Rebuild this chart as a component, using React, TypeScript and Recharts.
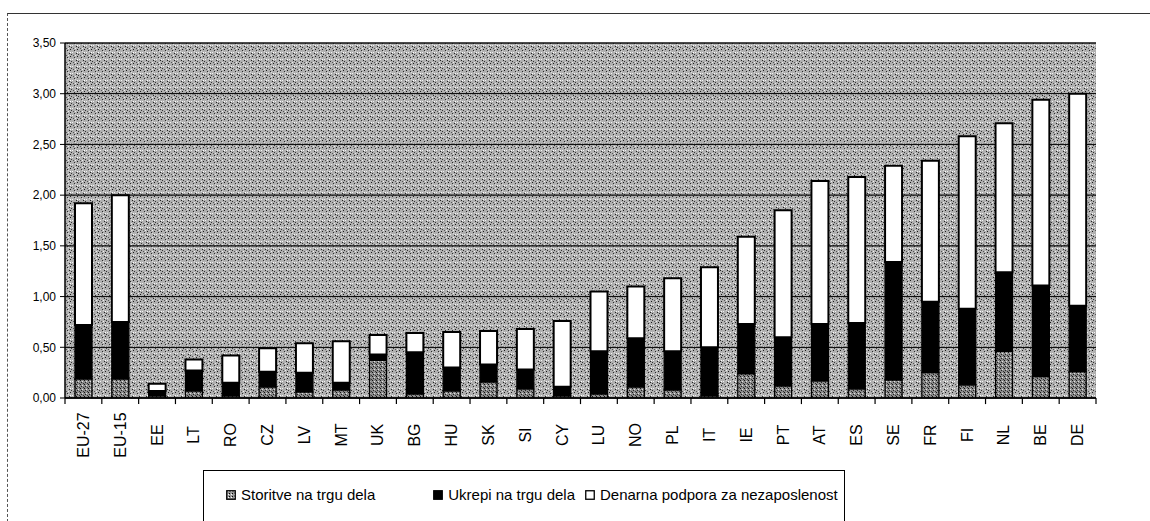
import React from "react";
import { BarChart, Bar, XAxis, YAxis, CartesianGrid, Legend, ReferenceLine } from "recharts";

const categories = ["EU-27","EU-15","EE","LT","RO","CZ","LV","MT","UK","BG","HU","SK","SI","CY","LU","NO","PL","IT","IE","PT","AT","ES","SE","FR","FI","NL","BE","DE"];
const storitve = [0.19,0.19,0.02,0.07,0.02,0.11,0.06,0.08,0.37,0.04,0.07,0.16,0.09,0.02,0.04,0.11,0.08,0.02,0.24,0.12,0.17,0.09,0.18,0.25,0.13,0.46,0.21,0.26];
const ukrepi = [0.53,0.56,0.05,0.20,0.13,0.15,0.19,0.07,0.06,0.41,0.23,0.17,0.19,0.09,0.42,0.48,0.38,0.48,0.49,0.48,0.56,0.65,1.16,0.70,0.75,0.78,0.90,0.65];
const denarna = [1.20,1.25,0.07,0.11,0.27,0.23,0.29,0.41,0.19,0.19,0.35,0.33,0.40,0.65,0.59,0.51,0.72,0.79,0.86,1.25,1.41,1.44,0.95,1.39,1.70,1.47,1.83,2.09];
const yTicks = [0, 0.5, 1, 1.5, 2, 2.5, 3, 3.5];
const seriesNames = ["Storitve na trgu dela", "Ukrepi na trgu dela", "Denarna podpora za nezaposlenost"];

const data = categories.map((c, i) => ({ cat: c, s: storitve[i], u: ukrepi[i], d: denarna[i] }));
const TICK_DEPTH = -0.06;

const FONT = "Arial, 'Liberation Sans', sans-serif";

const renderXTick = (props: any) => {
  const { x, y, payload, index } = props;
  const ty = y + 37;
  return (
    <text
      key={`xt-${index}`}
      x={x}
      y={ty}
      transform={`rotate(-90 ${x} ${ty})`}
      textAnchor="middle"
      dominantBaseline="central"
      fontSize={16}
      fontFamily={FONT}
      fill="#000"
    >
      {payload.value}
    </text>
  );
};

const LegendIcon = ({ kind }: { kind: number }) => (
  <svg width={10} height={10} style={{ marginRight: 5, flex: "none" }}>
    <defs>
      <pattern id="legPat" width="3" height="3" patternUnits="userSpaceOnUse">
        <rect width="3" height="3" fill="#9a9a9a" />
        <rect x="0" y="0" width="1" height="1" fill="#000" />
        <rect x="2" y="1" width="1" height="1" fill="#fff" />
      </pattern>
    </defs>
    <rect
      x={0.75}
      y={0.75}
      width={8.5}
      height={8.5}
      fill={kind === 0 ? "url(#legPat)" : kind === 1 ? "#000" : "#fff"}
      stroke="#000"
      strokeWidth={1.3}
    />
  </svg>
);

const renderLegend = () => (
  <div
    style={{
      width: 642,
      height: 60,
      border: "1px solid #000",
      borderBottom: "none",
      background: "#fff",
      boxSizing: "border-box",
      display: "flex",
      alignItems: "flex-start",
      paddingTop: 15,
      fontFamily: FONT,
      fontSize: 15,
      color: "#000",
    }}
  >
    {seriesNames.map((n, i) => (
      <div
        key={n}
        style={{
          display: "flex",
          alignItems: "center",
          marginLeft: i === 0 ? 22 : i === 1 ? 58 : 10,
          whiteSpace: "nowrap",
        }}
      >
        <LegendIcon kind={i} />
        <span>{n}</span>
      </div>
    ))}
  </div>
);

export default function App() {
  return (
    <div style={{ position: "absolute", left: 0, top: 0, width: 1150, height: 521, background: "#fff", overflow: "hidden" }}>
      <div
        style={{
          position: "absolute",
          left: 7,
          top: 13,
          width: 1143,
          height: 508,
          borderTop: "1px solid #333",
          borderLeft: "1px dashed #555",
        }}
      />
      <BarChart
        width={1150}
        height={521}
        data={data}
        margin={{ top: 43, right: 54, bottom: 0, left: 8 }}
        barSize={17}
        style={{ position: "absolute", left: 0, top: 0, overflow: "visible" }}
      >
        <defs>
          <pattern id="bgPat" width="7" height="7" patternUnits="userSpaceOnUse">
            <rect width="7" height="7" fill="#b0b0b0" />
            <rect x="0" y="0" width="1" height="1" fill="#1a1a1a" />
            <rect x="4" y="1" width="1" height="1" fill="#2a2a2a" />
            <rect x="2" y="3" width="1" height="1" fill="#f2f2f2" />
            <rect x="6" y="4" width="1" height="1" fill="#222" />
            <rect x="1" y="5" width="1" height="1" fill="#333" />
            <rect x="5" y="6" width="1" height="1" fill="#eee" />
            <rect x="3" y="6" width="1" height="1" fill="#555" />
            <rect x="5" y="2" width="1" height="1" fill="#ddd" />
            <rect x="0" y="3" width="1" height="1" fill="#fff" />
          </pattern>
          <pattern id="darkPat" width="4" height="4" patternUnits="userSpaceOnUse">
            <rect width="4" height="4" fill="#8c8c8c" />
            <rect x="0" y="0" width="1" height="1" fill="#111" />
            <rect x="2" y="1" width="1" height="1" fill="#e0e0e0" />
            <rect x="1" y="2" width="1" height="1" fill="#222" />
            <rect x="3" y="3" width="1" height="1" fill="#333" />
          </pattern>
        </defs>
        <CartesianGrid
          vertical={false}
          horizontal={true}
          stroke="#111"
          strokeWidth={1.3}
          fill="url(#bgPat)"
          fillOpacity={1}
        />
        <XAxis
          dataKey="cat"
          interval={0}
          height={123}
          tickLine={false}
          tickSize={0}
          tickMargin={0}
          axisLine={{ stroke: "#000", strokeWidth: 1.5 }}
          tick={renderXTick}
        />
        <YAxis
          width={57}
          domain={[0, 3.5]}
          ticks={yTicks}
          interval={0}
          allowDataOverflow
          tickFormatter={(v: number) => v.toFixed(2).replace(".", ",")}
          tickSize={5}
          tickMargin={4}
          tickLine={{ stroke: "#000" }}
          axisLine={{ stroke: "#000", strokeWidth: 1.5 }}
          tick={{ fontSize: 12, fontFamily: FONT, fill: "#000" }}
        />
        <YAxis
          yAxisId="r"
          orientation="right"
          width={0}
          domain={[0, 3.5]}
          tick={false}
          tickLine={false}
          axisLine={{ stroke: "#000", strokeWidth: 1.5 }}
        />
        <Legend
          layout="horizontal"
          verticalAlign="middle"
          align="center"
          content={renderLegend}
          wrapperStyle={{ position: "absolute", left: 203, top: 470, width: 642, height: 60 }}
        />
        <Bar dataKey="s" name={seriesNames[0]} stackId="a" fill="url(#darkPat)" stroke="#000" strokeWidth={1.3} isAnimationActive={false} />
        <Bar dataKey="u" name={seriesNames[1]} stackId="a" fill="#000" stroke="#000" strokeWidth={1.3} isAnimationActive={false} />
        <Bar dataKey="d" name={seriesNames[2]} stackId="a" fill="#fff" stroke="#000" strokeWidth={2} isAnimationActive={false} />
        {categories.map((c) => (
          <ReferenceLine
            key={`b-${c}`}
            segment={[{ x: c, y: 0 }, { x: c, y: TICK_DEPTH }]}
            position="start"
            ifOverflow="visible"
            stroke="#000"
            strokeWidth={1.2}
          />
        ))}
        <ReferenceLine
          key="b-end"
          segment={[
            { x: categories[categories.length - 1], y: 0 },
            { x: categories[categories.length - 1], y: TICK_DEPTH },
          ]}
          position="end"
          ifOverflow="visible"
          stroke="#000"
          strokeWidth={1.2}
        />
      </BarChart>
    </div>
  );
}
